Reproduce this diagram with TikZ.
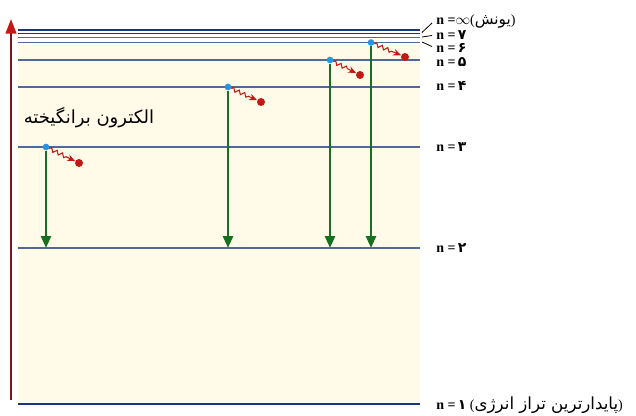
\documentclass[tikz,border=0pt]{standalone}
\usepackage{fontspec}
\setmainfont{Liberation Serif}
\newfontfamily\farsi[Script=Arabic]{DejaVu Sans}
\TeXXeTstate=1
\usetikzlibrary{arrows.meta,decorations.pathmorphing}

\definecolor{cream}{RGB}{255,251,232}
\definecolor{levelblue}{RGB}{80,105,150}
\definecolor{navy}{RGB}{25,55,120}
\definecolor{emgreen}{RGB}{22,112,34}
\definecolor{photonred}{RGB}{195,25,20}
\definecolor{axisred}{RGB}{125,20,25}
\definecolor{dotblue}{RGB}{35,150,220}
\newcommand{\fdig}[1]{{\farsi\bfseries\fontsize{10.5}{11}\selectfont #1}}

\begin{document}
\begin{tikzpicture}[x=0.75pt, y=-0.75pt,
  level/.style={draw=levelblue, line width=1pt},
  toplevel/.style={draw=navy, line width=1pt},
  lvlab/.style={anchor=west, inner sep=0pt, font=\bfseries\fontsize{10.5}{11}\selectfont},
  electron/.style={circle, fill=dotblue, inner sep=0pt, minimum size=5pt},
  emitted/.style={circle, fill=photonred, inner sep=0pt, minimum size=6pt},
  drop/.style={draw=emgreen, line width=2pt, -{Triangle[length=9pt,width=7.5pt]}},
  wave/.style={draw=photonred, line width=0.8pt, -{Stealth[length=6pt,width=5pt]},
    decorate, decoration={snake, amplitude=1.4pt, segment length=4.5pt, post length=6pt}}]
\useasboundingbox (0,0) rectangle (636,415);
% --- background ---
\fill[cream] (18,45) rectangle (420,402);
% --- energy axis ---
\coordinate (ax0) at (11,400);
\coordinate (ax1) at (11,19);
\draw[axisred, line width=1.6pt, -{Triangle[length=11pt,width=8pt,color=photonred]}] (ax0) -- (ax1);
% --- levels ---
\draw[toplevel] (18,30) -- (420,30);
\draw[toplevel] (18,33.5) -- (420,33.5);
\draw[level] (18,37.5) -- (420,37.5);
\draw[level] (18,42.5) -- (420,42.5);
\draw[level] (18,60) -- (420,60);
\draw[level] (18,87) -- (420,87);
\draw[level] (18,147) -- (420,147);
\draw[level] (18,248) -- (420,248);
\draw[navy, line width=1.3pt] (18,404) -- (420,404);
% --- leaders to the crowded labels ---
\draw[line width=0.6pt] (422,32.5) -- (432,23);
\draw[line width=0.6pt] (422,37) -- (432,35.5);
\draw[line width=0.6pt] (422,42) -- (432,46.5);
% --- labels ---
\node[lvlab] (linf) at (436,22) {n =$\infty$\mdseries({\farsi\fontsize{11.5}{12}\selectfont\beginR یونش\endR})};
\node[lvlab] (l7) at (436,35.5) {n =\,\fdig{۷}};
\node[lvlab] (l6) at (436,48) {n =\,\fdig{۶}};
\node[lvlab] (l5) at (436,62) {n =\,\fdig{۵}};
\node[lvlab] (l4) at (436,86) {n =\,\fdig{۴}};
\node[lvlab] (l3) at (436,147) {n =\,\fdig{۳}};
\node[lvlab] (l2) at (436,248) {n =\,\fdig{۲}};
\node[lvlab] (l1) at (436,405) {n =\,\fdig{۱}\ \mdseries({\farsi\fontsize{12.5}{13}\selectfont\beginR پایدارترین تراز انرژی\endR})};
\node[font=\farsi\fontsize{13.5}{15}\selectfont] (exc) at (89,118) {\beginR الکترون برانگیخته\endR};
% --- electrons ---
\node[electron] (e3) at (46,147) {};
\node[electron] (e4) at (228,87) {};
\node[electron] (e5) at (330,60) {};
\node[electron] (e6) at (371,42.5) {};
\node[emitted] (p3) at (79,163) {};
\node[emitted] (p4) at (261,102) {};
\node[emitted] (p5) at (360,75) {};
\node[emitted] (p6) at (405,57) {};
\coordinate (g3) at (46,248);
\coordinate (g4) at (228,248);
\coordinate (g5) at (330,248);
\coordinate (g6) at (371,248);
% --- transitions ---
\draw[drop] (e3) -- (g3);
\draw[drop] (e4) -- (g4);
\draw[drop] (e5) -- (g5);
\draw[drop] (e6) -- (g6);
\draw[wave] (e3) -- (p3);
\draw[wave] (e4) -- (p4);
\draw[wave] (e5) -- (p5);
\draw[wave] (e6) -- (p6);
\end{tikzpicture}
\end{document}
